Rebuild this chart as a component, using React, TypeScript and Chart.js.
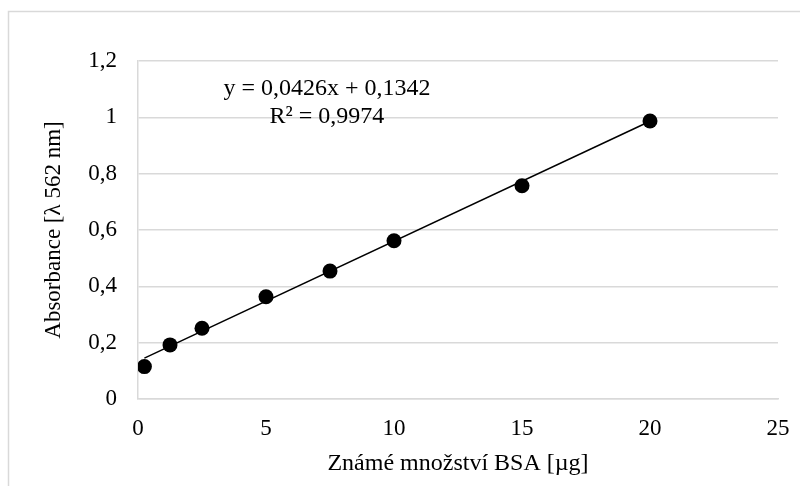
import React, { useEffect, useRef } from "react";
import { Chart, registerables } from "chart.js";

Chart.register(...registerables);

const concentrations = [0.25, 1.25, 2.5, 5, 7.5, 10, 15, 20];
const absorbances = [0.115, 0.192, 0.251, 0.363, 0.454, 0.562, 0.757, 0.987];
const trendX = [0.25, 20];
const trendY = [0.1449, 0.9862];
const equationLines = ["y = 0,0426x + 0,1342", "R² = 0,9974"];
const xTitle = "Známé množství BSA [µg]";
const yTitle = "Absorbance [λ 562 nm]";

const FONT = "'Liberation Serif', 'Times New Roman', serif";
const GRID = "#d9d9d9";

const framePlugin = {
  id: "frame",
  beforeDraw(chart: any) {
    const ctx = chart.ctx;
    ctx.save();
    ctx.fillStyle = "#ffffff";
    ctx.fillRect(0, 0, chart.width, chart.height);
    ctx.strokeStyle = GRID;
    ctx.lineWidth = 1.5;
    ctx.strokeRect(8.5, 11.5, chart.width + 20, chart.height + 20);
    ctx.restore();
  },
};

const equationPlugin = {
  id: "equation",
  afterDatasetsDraw(chart: any) {
    const ctx = chart.ctx;
    const xs = chart.scales.x;
    const ys = chart.scales.y;
    ctx.save();
    ctx.fillStyle = "#000";
    ctx.font = `24px ${FONT}`;
    ctx.textAlign = "center";
    ctx.textBaseline = "middle";
    const cx = xs.getPixelForValue(7.38);
    ctx.fillText(equationLines[0], cx, ys.getPixelForValue(1.1));
    ctx.fillText(equationLines[1], cx, ys.getPixelForValue(1.004));
    ctx.restore();
  },
};

export default function App() {
  const ref = useRef<HTMLCanvasElement>(null);
  useEffect(() => {
    if (!ref.current) return;
    const chart = new Chart(ref.current, {
      type: "scatter",
      data: {
        datasets: [
          {
            label: "trend",
            data: trendX.map((x, i) => ({ x, y: trendY[i] })),
            showLine: true,
            borderColor: "#000",
            borderWidth: 1.5,
            pointRadius: 0,
            order: 2,
          },
          {
            label: "BSA",
            data: concentrations.map((x, i) => ({ x, y: absorbances[i] })),
            backgroundColor: "#000",
            borderColor: "#000",
            pointRadius: 7.5,
            pointBorderWidth: 0,
            showLine: false,
            order: 1,
          },
        ],
      },
      options: {
        animation: false,
        responsive: false,
        maintainAspectRatio: false,
        layout: { padding: { left: 0, top: 61, right: 22, bottom: 0 } },
        plugins: { legend: { display: false }, tooltip: { enabled: false } },
        scales: {
          x: {
            type: "linear",
            min: 0,
            max: 25,
            afterFit: (s: any) => {
              s.height = 87;
            },
            ticks: {
              stepSize: 5,
              color: "#000",
              font: { family: FONT, size: 23, lineHeight: 1.72 },
              padding: 10,
              maxRotation: 0,
            },
            grid: { display: false, drawTicks: false },
            border: { display: true, color: GRID, width: 1.5 },
            title: {
              display: true,
              text: xTitle,
              color: "#000",
              font: { family: FONT, size: 24 },
              padding: { top: 0, bottom: 8 },
            },
          },
          y: {
            type: "linear",
            min: 0,
            max: 1.2,
            afterFit: (s: any) => {
              s.width = 138;
            },
            ticks: {
              stepSize: 0.2,
              color: "#000",
              font: { family: FONT, size: 23 },
              padding: 21,
              callback: (v: any) => String(Number(Number(v).toFixed(1))).replace(".", ","),
            },
            grid: { color: GRID, lineWidth: 1.5, drawTicks: false },
            border: { display: true, color: GRID, width: 1.5 },
            title: {
              display: true,
              text: yTitle,
              color: "#000",
              font: { family: FONT, size: 23 },
              padding: { top: 40, bottom: 0 },
            },
          },
        },
      },
      plugins: [framePlugin, equationPlugin],
    });
    return () => chart.destroy();
  }, []);
  return (
    <div style={{ position: "fixed", left: 0, top: 0, width: 800, height: 486 }}>
      <canvas ref={ref} width={800} height={486} style={{ width: 800, height: 486, display: "block" }} />
    </div>
  );
}
